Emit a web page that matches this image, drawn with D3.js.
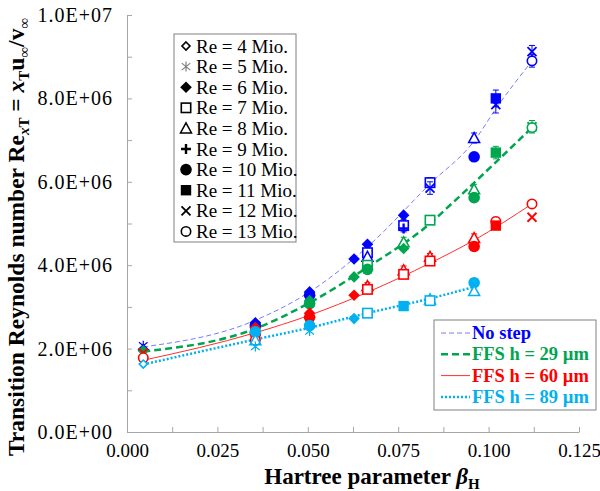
<!DOCTYPE html>
<html>
<head>
<meta charset="utf-8">
<script src="https://cdn.jsdelivr.net/npm/d3@7"></script>
<style>
  body { margin: 0; background: #fff; }
  svg text { font-family: "Liberation Serif", "Times New Roman", serif; }
</style>
</head>
<body>
<div id="chart"></div>
<script>
// Re number (Mio.) used for each marker shape
var reLabels = [4, 5, 6, 7, 8, 9, 10, 11, 12, 13];

// No step
var noStepBeta = [0.0045, 0.0045, 0.0355, 0.0355, 0.0505, 0.0505, 0.0628, 0.0665, 0.0665, 0.0665, 0.0765, 0.0765, 0.0765, 0.0838, 0.0838, 0.096, 0.096, 0.102, 0.102, 0.112, 0.112];
var noStepRe   = [2.07e6, 1.98e6, 2.62e6, 2.55e6, 3.36e6, 3.28e6, 4.15e6, 4.50e6, 4.30e6, 4.20e6, 5.20e6, 4.95e6, 4.88e6, 5.98e6, 5.85e6, 7.05e6, 6.60e6, 8.00e6, 7.85e6, 9.12e6, 8.90e6];
var noStepMark = [5, 6, 6, 10, 6, 10, 6, 6, 7, 8, 6, 7, 9, 7, 12, 8, 10, 11, 12, 12, 13];
var noStepErr  = [0, 0, 0, 0, 0, 0, 0, 0, 0.1e6, 0, 0, 0.15e6, 0, 0.12e6, 0.15e6, 0.12e6, 0, 0.2e6, 0.2e6, 0.15e6, 0.15e6];

// FFS h = 29 um
var ffs29Beta = [0.0045, 0.0355, 0.0355, 0.0505, 0.0505, 0.0628, 0.0665, 0.0665, 0.0765, 0.0765, 0.0838, 0.096, 0.096, 0.102, 0.112, 0.112];
var ffs29Re   = [1.95e6, 2.50e6, 2.40e6, 3.15e6, 3.08e6, 3.72e6, 4.00e6, 3.90e6, 4.55e6, 4.40e6, 5.08e6, 5.82e6, 5.62e6, 6.70e6, 7.32e6, 7.30e6];
var ffs29Mark = [6, 6, 10, 6, 10, 6, 7, 10, 8, 6, 7, 8, 10, 11, 12, 13];
var ffs29Err  = [0, 0, 0, 0, 0, 0, 0.1e6, 0, 0.12e6, 0, 0.1e6, 0.12e6, 0, 0.15e6, 0.15e6, 0];

// FFS h = 60 um
var ffs60Beta = [0.0045, 0.0045, 0.0355, 0.0355, 0.0355, 0.0505, 0.0505, 0.0628, 0.0665, 0.0665, 0.0765, 0.0765, 0.0838, 0.0838, 0.096, 0.096, 0.102, 0.102, 0.112, 0.112];
var ffs60Re   = [1.90e6, 1.78e6, 2.50e6, 2.35e6, 2.20e6, 2.85e6, 2.75e6, 3.28e6, 3.50e6, 3.42e6, 3.88e6, 3.78e6, 4.20e6, 4.10e6, 4.65e6, 4.45e6, 5.05e6, 4.95e6, 5.47e6, 5.15e6];
var ffs60Mark = [12, 13, 6, 10, 13, 6, 10, 6, 8, 7, 8, 7, 8, 7, 8, 10, 13, 11, 13, 12];
var ffs60Err  = [0, 0, 0, 0, 0, 0, 0, 0, 0.08e6, 0, 0.1e6, 0, 0.08e6, 0, 0.1e6, 0, 0.1e6, 0, 0.08e6, 0];

// FFS h = 89 um
var ffs89Beta = [0.0045, 0.0355, 0.0355, 0.0355, 0.0505, 0.0505, 0.0628, 0.0665, 0.0765, 0.0838, 0.0838, 0.096, 0.096];
var ffs89Re   = [1.63e6, 2.40e6, 2.20e6, 2.05e6, 2.55e6, 2.42e6, 2.72e6, 2.85e6, 3.02e6, 3.18e6, 3.15e6, 3.58e6, 3.38e6];
var ffs89Mark = [4, 10, 8, 5, 10, 5, 6, 7, 11, 8, 7, 10, 8];
var ffs89Err  = [0, 0, 0, 0, 0, 0, 0, 0.06e6, 0, 0.06e6, 0, 0.08e6, 0];

// trend lines
var noStepTrendBeta = [0.0045, 0.0355, 0.0505, 0.0665, 0.0838, 0.0962, 0.102, 0.112];
var noStepTrendRe   = [2.04e6, 2.68e6, 3.36e6, 4.44e6, 5.95e6, 7.00e6, 7.75e6, 8.90e6];
var ffs29TrendBeta  = [0.0045, 0.0355, 0.0505, 0.0665, 0.0838, 0.0901, 0.112];
var ffs29TrendRe    = [1.93e6, 2.48e6, 3.10e6, 3.95e6, 5.00e6, 5.50e6, 7.30e6];
var ffs60TrendBeta  = [0.0045, 0.0355, 0.0505, 0.0665, 0.0838, 0.096, 0.112];
var ffs60TrendRe    = [1.72e6, 2.38e6, 2.80e6, 3.35e6, 4.05e6, 4.60e6, 5.47e6];
var ffs89TrendBeta  = [0.0045, 0.0355, 0.0505, 0.0665, 0.0838, 0.096];
var ffs89TrendRe    = [1.62e6, 2.22e6, 2.50e6, 2.85e6, 3.20e6, 3.48e6];

var xTicks = d3.range(0, 0.12501, 0.0125);
var yTicks = d3.range(0, 1.0001e7, 1e6);

var width = 600, height = 491;
var mLeft = 127, mRight = 579, mTop = 15, mBottom = 432;

var svg = d3.select("#chart").append("svg").attr("width", width).attr("height", height);

var x = d3.scaleLinear().domain([0, 0.125]).range([mLeft, mRight]);
var y = d3.scaleLinear().domain([0, 1e7]).range([mBottom, mTop]);

function sciFmt(v) {
  if (v == 0) return "0.0E+00";
  var e = Math.floor(Math.log10(v) + 1e-9);
  var m = v / Math.pow(10, e);
  return m.toFixed(1) + "E+" + (e < 10 ? "0" + e : e);
}

var gx = svg.append("g").attr("transform", "translate(0," + mBottom + ")")
  .call(d3.axisBottom(x).tickValues(xTicks).tickSizeInner(-5).tickSizeOuter(0).tickPadding(12)
    .tickFormat(function(d, i) { return i % 2 == 0 ? d3.format(".3f")(d) : ""; }));
var gy = svg.append("g").attr("transform", "translate(" + mLeft + ",0)")
  .call(d3.axisLeft(y).tickValues(yTicks).tickSizeInner(-5).tickSizeOuter(0).tickPadding(14)
    .tickFormat(function(d, i) { return i % 2 == 0 ? sciFmt(d) : ""; }));
[gx, gy].forEach(function(g) {
  g.select(".domain").attr("stroke", "#a6a6a6");
  g.selectAll(".tick line").attr("stroke", "#a6a6a6");
  g.selectAll(".tick text").attr("fill", "#000").style("font-size", "19px")
    .style("font-family", "'Liberation Serif', serif");
});
gy.selectAll(".tick text").style("font-size", "20px").style("letter-spacing", "1px");

// trend lines
var lineGen = d3.line().x(function(d) { return x(d[0]); }).y(function(d) { return y(d[1]); }).curve(d3.curveMonotoneX);
var trends = [
  { b: noStepTrendBeta, r: noStepTrendRe, color: "#7a7aff", text: "#0000ff", w: 1, dash: "5,3" },
  { b: ffs29TrendBeta, r: ffs29TrendRe, color: "#00a550", text: "#00a550", w: 2.5, dash: "7,4" },
  { b: ffs60TrendBeta, r: ffs60TrendRe, color: "#ff3030", text: "#ff0000", w: 1, dash: null },
  { b: ffs89TrendBeta, r: ffs89TrendRe, color: "#00b0f0", text: "#00b0f0", w: 2.5, dash: "2,2" }
];
trends.forEach(function(t) {
  svg.append("path")
    .datum(d3.zip(t.b, t.r))
    .attr("d", lineGen)
    .attr("fill", "none")
    .attr("stroke", t.color)
    .attr("stroke-width", t.w)
    .attr("stroke-dasharray", t.dash);
});

// marker shapes
function drawMarker(g, kind, cx, cy, color) {
  var s = 4.7;
  switch (kind) {
    case 4:
      g.append("path").attr("d", "M" + cx + "," + (cy - 4) + "L" + (cx + 4) + "," + cy + "L" + cx + "," + (cy + 4) + "L" + (cx - 4) + "," + cy + "Z")
        .attr("fill", "#fff").attr("stroke", color).attr("stroke-width", 1.6);
      break;
    case 5:
      g.append("path").attr("d", "M" + cx + "," + (cy - 5) + "V" + (cy + 5) +
        "M" + (cx - 4.3) + "," + (cy - 3.5) + "L" + (cx + 4.3) + "," + (cy + 3.5) +
        "M" + (cx - 4.3) + "," + (cy + 3.5) + "L" + (cx + 4.3) + "," + (cy - 3.5))
        .attr("fill", "none").attr("stroke", color).attr("stroke-width", 1.2);
      break;
    case 6:
      g.append("path").attr("d", "M" + cx + "," + (cy - 5.8) + "L" + (cx + 5.8) + "," + cy + "L" + cx + "," + (cy + 5.8) + "L" + (cx - 5.8) + "," + cy + "Z")
        .attr("fill", color);
      break;
    case 7:
      g.append("rect").attr("x", cx - s).attr("y", cy - s).attr("width", 2 * s).attr("height", 2 * s)
        .attr("fill", "#fff").attr("stroke", color).attr("stroke-width", 1.6);
      break;
    case 8:
      g.append("path").attr("d", "M" + cx + "," + (cy - 5.5) + "L" + (cx + 5.5) + "," + (cy + 4.5) + "L" + (cx - 5.5) + "," + (cy + 4.5) + "Z")
        .attr("fill", "#fff").attr("stroke", color).attr("stroke-width", 1.5);
      break;
    case 9:
      g.append("path").attr("d", "M" + cx + "," + (cy - 5) + "V" + (cy + 5) + "M" + (cx - 5) + "," + cy + "H" + (cx + 5))
        .attr("stroke", color).attr("stroke-width", 2.4);
      break;
    case 10:
      g.append("circle").attr("cx", cx).attr("cy", cy).attr("r", 5.8).attr("fill", color);
      break;
    case 11:
      g.append("rect").attr("x", cx - 5.2).attr("y", cy - 5.2).attr("width", 10.4).attr("height", 10.4).attr("fill", color);
      break;
    case 12:
      g.append("path").attr("d", "M" + (cx - 4.5) + "," + (cy - 4.5) + "L" + (cx + 4.5) + "," + (cy + 4.5) + "M" + (cx - 4.5) + "," + (cy + 4.5) + "L" + (cx + 4.5) + "," + (cy - 4.5))
        .attr("stroke", color).attr("stroke-width", 1.8);
      break;
    case 13:
      g.append("circle").attr("cx", cx).attr("cy", cy).attr("r", 4.7)
        .attr("fill", "#fff").attr("stroke", color).attr("stroke-width", 1.6);
      break;
  }
}

var series = [
  { b: noStepBeta, r: noStepRe, m: noStepMark, e: noStepErr, color: "#0000ff" },
  { b: ffs29Beta, r: ffs29Re, m: ffs29Mark, e: ffs29Err, color: "#00a550" },
  { b: ffs60Beta, r: ffs60Re, m: ffs60Mark, e: ffs60Err, color: "#ff0000" },
  { b: ffs89Beta, r: ffs89Re, m: ffs89Mark, e: ffs89Err, color: "#00b0f0" }
];
series.forEach(function(s) {
  var g = svg.append("g");
  s.b.forEach(function(b, i) {
    var cx = x(b), cy = y(s.r[i]);
    if (s.e[i] > 0) {
      var y1 = y(s.r[i] + s.e[i]), y2 = y(s.r[i] - s.e[i]);
      g.append("path").attr("d", "M" + cx + "," + y1 + "V" + y2 + "M" + (cx - 3) + "," + y1 + "H" + (cx + 3) + "M" + (cx - 3) + "," + y2 + "H" + (cx + 3))
        .attr("stroke", s.color).attr("stroke-width", 1).attr("fill", "none");
    }
    drawMarker(g, s.m[i], cx, cy, s.color);
  });
});

// marker legend
var leg1 = svg.append("g");
leg1.append("rect").attr("x", 174).attr("y", 34).attr("width", 122).attr("height", 208)
  .attr("fill", "#fff").attr("stroke", "#808080").attr("stroke-width", 1);
reLabels.forEach(function(re, i) {
  var ly = 46 + i * 20.6;
  drawMarker(leg1, re, 186, ly, re == 5 ? "#808080" : "#000");
  leg1.append("text").attr("x", 196).attr("y", ly + 6.5).style("font-size", "19px")
    .text("Re = " + re + " Mio.");
});

// line legend
var lineNames = ["No step", "FFS h = 29 \u00b5m", "FFS h = 60 \u00b5m", "FFS h = 89 \u00b5m"];
var leg2 = svg.append("g");
leg2.append("rect").attr("x", 434).attr("y", 320).attr("width", 162).attr("height", 90)
  .attr("fill", "#fff").attr("stroke", "#808080").attr("stroke-width", 1);
trends.forEach(function(t, i) {
  var ly = 333 + i * 21.3;
  leg2.append("line").attr("x1", 441).attr("x2", 470).attr("y1", ly).attr("y2", ly)
    .attr("stroke", t.color).attr("stroke-width", t.w).attr("stroke-dasharray", t.dash);
  leg2.append("text").attr("x", 472).attr("y", ly + 6).attr("fill", t.text)
    .style("font-size", "18.5px").style("font-weight", "bold").text(lineNames[i]);
});

// axis titles
var xt = svg.append("text").attr("x", 372).attr("y", 484).attr("text-anchor", "middle")
  .style("font-size", "23px").style("font-weight", "bold");
xt.append("tspan").text("Hartree parameter ");
xt.append("tspan").style("font-style", "italic").text("\u03b2");
xt.append("tspan").attr("dy", 5).style("font-size", "15px").text("H");

var yt = svg.append("text").attr("transform", "translate(24,237) rotate(-90)").attr("text-anchor", "middle")
  .style("font-size", "23.5px").style("font-weight", "bold");
yt.append("tspan").text("Transition  Reynolds number  Re");
yt.append("tspan").attr("dy", 5).style("font-size", "15px").style("font-style", "italic").text("x");
yt.append("tspan").style("font-size", "15px").text("T");
yt.append("tspan").attr("dy", -5).text(" = ");
yt.append("tspan").style("font-style", "italic").text("x");
yt.append("tspan").attr("dy", 5).style("font-size", "15px").text("T");
yt.append("tspan").attr("dy", -5).text("u");
yt.append("tspan").attr("dy", 5).style("font-size", "15px").text("\u221e");
yt.append("tspan").attr("dy", -5).text("/v");
yt.append("tspan").attr("dy", 5).style("font-size", "15px").text("\u221e");
</script>
</body>
</html>
